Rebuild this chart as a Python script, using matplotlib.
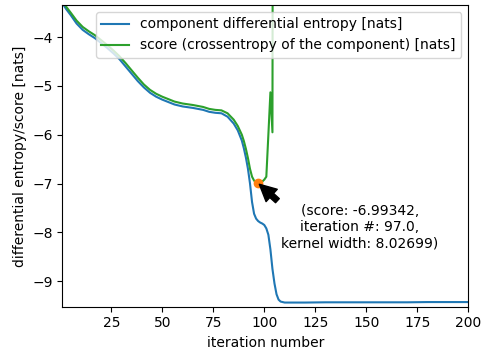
import numpy as np
import matplotlib
matplotlib.use('Agg')
import matplotlib.pyplot as plt

# differential entropy of the component per iteration
iters_entropy = [1, 3, 5, 8, 11, 14, 17, 20, 23, 26, 29, 32, 35, 38, 41, 44, 47, 50, 53, 56,
                 60, 65, 70, 73, 76, 79, 82, 85, 87, 89, 90, 91, 92, 93, 94, 95, 96, 97, 98, 99,
                 100, 101, 102, 103, 104, 105, 106, 107, 108, 110, 115, 120, 130, 140, 150, 160,
                 170, 180, 190, 200]
entropy = [-3.30, -3.43, -3.54, -3.72, -3.85, -3.94, -4.02, -4.12, -4.22, -4.33, -4.45, -4.60,
           -4.75, -4.90, -5.03, -5.14, -5.22, -5.28, -5.33, -5.38, -5.42, -5.45, -5.49, -5.53,
           -5.55, -5.56, -5.63, -5.77, -5.91, -6.12, -6.28, -6.47, -6.70, -7.00, -7.38, -7.62,
           -7.72, -7.77, -7.80, -7.82, -7.85, -7.92, -8.05, -8.35, -8.75, -9.05, -9.27, -9.38,
           -9.42, -9.44, -9.44, -9.44, -9.435, -9.435, -9.435, -9.435, -9.435, -9.43, -9.43, -9.43]

# crossentropy score of the component (blows up after iteration ~104)
iters_score = [1, 3, 5, 8, 11, 14, 17, 20, 23, 26, 29, 32, 35, 38, 41, 44, 47, 50, 53, 56,
               60, 65, 70, 73, 76, 79, 82, 85, 87, 89, 90, 91, 92, 93, 94, 95, 96, 97, 98, 99,
               100, 101, 102, 103, 104, 105]
score = [-3.25, -3.38, -3.49, -3.66, -3.79, -3.88, -3.96, -4.06, -4.16, -4.27, -4.39, -4.53,
         -4.68, -4.83, -4.97, -5.08, -5.16, -5.22, -5.27, -5.32, -5.36, -5.39, -5.43, -5.47,
         -5.49, -5.50, -5.56, -5.69, -5.82, -6.00, -6.13, -6.29, -6.48, -6.70, -6.86, -6.94,
         -6.98, -6.99342, -6.98, -6.96, -6.92, -6.86, -6.00, -5.13, -5.95, 25.0]

best_iter = 97.0
best_score = -6.99342
best_width = 8.02699

fig = plt.figure(figsize=(4.84, 3.49), dpi=100)
ax = fig.add_subplot(111)
fig.subplots_adjust(left=0.1287, right=0.9676, bottom=0.1212, top=0.9857)

ax.plot(iters_entropy, entropy, label='component differential entropy [nats]')
ax.plot(iters_score, score, color='C2', label='score (crossentropy of the component) [nats]')
ax.plot(best_iter, best_score, 'o', color='C1')

ax.annotate('(score: {0},\niteration #: {1},\nkernel width: {2})'.format(best_score, best_iter, best_width),
            xy=(best_iter, best_score), xytext=(146.9, -7.90), ha='center', va='center',
            arrowprops=dict(facecolor='black', shrink=0.05))

ax.set_xlim(1, 200)
ax.set_ylim(-9.525, -3.34)
ax.set_xlabel('iteration number')
ax.set_ylabel('differential entropy/score [nats]')
ax.legend(loc='upper right')

fig.savefig('out.png', dpi=100)
